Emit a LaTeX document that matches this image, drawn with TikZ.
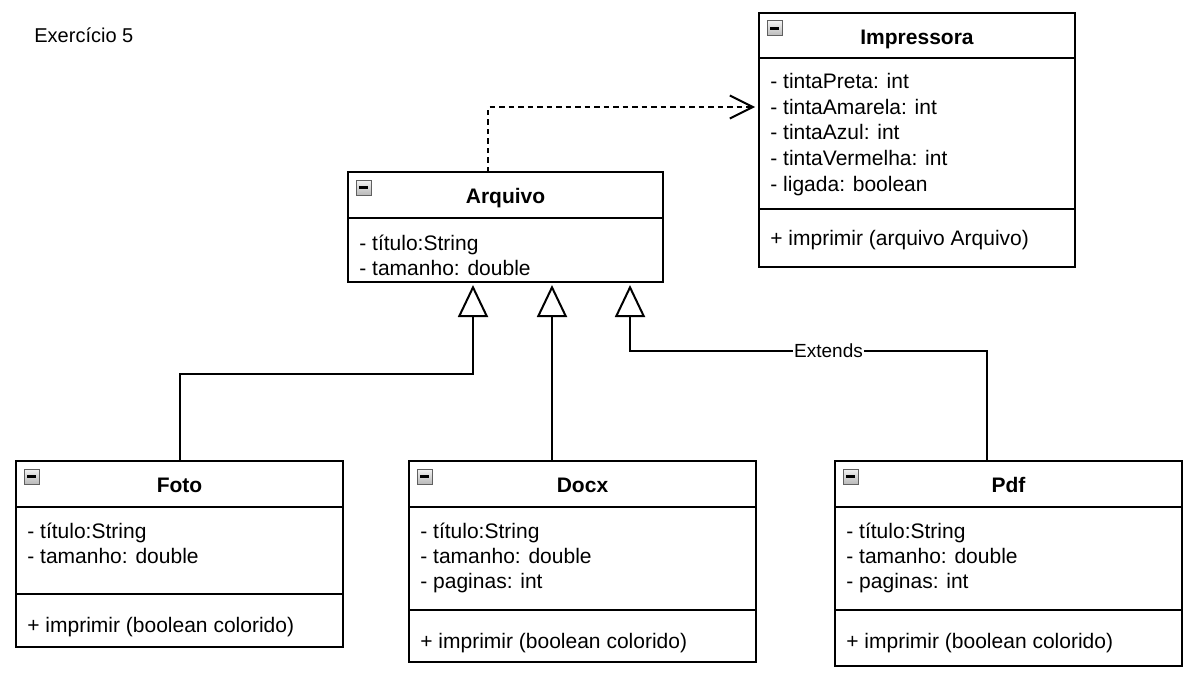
\documentclass[tikz,border=0pt]{standalone}
\usepackage{fontspec}
\setmainfont{Liberation Sans}
\usetikzlibrary{arrows.meta,calc}

\tikzset{
  umlclass/.style={draw, line width=1pt, anchor=north west, inner sep=0pt, outer sep=0pt},
  classname/.style={font=\bfseries\fontsize{10.5}{12.5}\selectfont, anchor=base, inner sep=0pt},
  member/.style={font=\fontsize{10.5}{12.5}\selectfont, anchor=base west, inner sep=0pt},
  divider/.style={line width=1pt},
  inherit/.style={line width=1pt, -{Triangle[length=16pt,width=15pt,fill=white]}, shorten >=1.5pt},
  depend/.style={line width=1pt, dash pattern=on 2.75pt off 2pt, -{Straight Barb[length=11.5pt,width=11.5pt]}},
  extlabel/.style={font=\fontsize{9.5}{11}\selectfont, fill=white, inner sep=0.5pt},
  foldicon/.pic={
    \draw[draw=gray!75!black, top color=gray!10, bottom color=gray!55, line width=0.5pt] (0,0) rectangle (15,15);
    \draw[line width=1.3pt] (3,7.5) -- (12,7.5);
  }
}

\begin{document}
\begin{tikzpicture}[x=0.5pt, y=-0.5pt]
  \useasboundingbox (0,0) rectangle (1197,690);

  \node[member, font=\fontsize{10}{12}\selectfont] (exercicio) at (34,43) {Exercício 5};

  % Impressora
  \node[umlclass, minimum width=158pt, minimum height=127pt] (impressora) at (759,13) {};
  \pic at ($(impressora.north west)+(8,8)$) {foldicon};
  \node[classname] (impressoraname) at ($(impressora.north)+(0,31.5)$) {Impressora};
  \draw[divider] ($(impressora.north west)+(0,45)$) -- ($(impressora.north east)+(0,45)$);
  \draw[divider] ($(impressora.north west)+(0,196)$) -- ($(impressora.north east)+(0,196)$);
  \foreach \txt [count=\i from 0] in {- tintaPreta: int, - tintaAmarela: int, - tintaAzul: int, - tintaVermelha: int, - ligada: boolean}
    \node[member] (impressoraattr\i) at ($(impressora.north west)+(11,76+25.5*\i)$) {\txt};
  \node[member] (impressoraop) at ($(impressora.north west)+(11,232)$) {+ imprimir (arquivo Arquivo)};

  % Arquivo
  \node[umlclass, minimum width=157.5pt, minimum height=55pt] (arquivo) at (348,172) {};
  \pic at ($(arquivo.north west)+(8,8)$) {foldicon};
  \node[classname] (arquivoname) at ($(arquivo.north)+(0,31.5)$) {Arquivo};
  \draw[divider] ($(arquivo.north west)+(0,46)$) -- ($(arquivo.north east)+(0,46)$);
  \foreach \txt [count=\i from 0] in {- título:String, - tamanho: double}
    \node[member] (arquivoattr\i) at ($(arquivo.north west)+(11,78+25*\i)$) {\txt};

  % Foto
  \node[umlclass, minimum width=163.5pt, minimum height=93pt] (foto) at (16,461) {};
  \pic at ($(foto.north west)+(8,8)$) {foldicon};
  \node[classname] (fotoname) at ($(foto.north)+(0,31.5)$) {Foto};
  \draw[divider] ($(foto.north west)+(0,46)$) -- ($(foto.north east)+(0,46)$);
  \draw[divider] ($(foto.north west)+(0,133)$) -- ($(foto.north east)+(0,133)$);
  \foreach \txt [count=\i from 0] in {- título:String, - tamanho: double}
    \node[member] (fotoattr\i) at ($(foto.north west)+(11,77+25*\i)$) {\txt};
  \node[member] (fotoop) at ($(foto.north west)+(11,171)$) {+ imprimir (boolean colorido)};

  % Docx
  \node[umlclass, minimum width=173.5pt, minimum height=100.5pt] (docx) at (409,461) {};
  \pic at ($(docx.north west)+(8,8)$) {foldicon};
  \node[classname] (docxname) at ($(docx.north)+(0,31.5)$) {Docx};
  \draw[divider] ($(docx.north west)+(0,46)$) -- ($(docx.north east)+(0,46)$);
  \draw[divider] ($(docx.north west)+(0,149)$) -- ($(docx.north east)+(0,149)$);
  \foreach \txt [count=\i from 0] in {- título:String, - tamanho: double, - paginas: int}
    \node[member] (docxattr\i) at ($(docx.north west)+(11,77+25*\i)$) {\txt};
  \node[member] (docxop) at ($(docx.north west)+(11,187)$) {+ imprimir (boolean colorido)};

  % Pdf
  \node[umlclass, minimum width=173.5pt, minimum height=102.5pt] (pdf) at (835,461) {};
  \pic at ($(pdf.north west)+(8,8)$) {foldicon};
  \node[classname] (pdfname) at ($(pdf.north)+(0,31.5)$) {Pdf};
  \draw[divider] ($(pdf.north west)+(0,46)$) -- ($(pdf.north east)+(0,46)$);
  \draw[divider] ($(pdf.north west)+(0,149)$) -- ($(pdf.north east)+(0,149)$);
  \foreach \txt [count=\i from 0] in {- título:String, - tamanho: double, - paginas: int}
    \node[member] (pdfattr\i) at ($(pdf.north west)+(11,77+25*\i)$) {\txt};
  \node[member] (pdfop) at ($(pdf.north west)+(11,187)$) {+ imprimir (boolean colorido)};

  % ligacoes
  \coordinate (fotoin) at ($(arquivo.south)+(-32.5,0)$);
  \coordinate (docxin) at ($(arquivo.south)+(46.5,0)$);
  \coordinate (pdfin) at ($(arquivo.south)+(124.5,0)$);
  \coordinate (pdfout) at ($(pdf.north)+(-21.5,0)$);
  \coordinate (depout) at ($(arquivo.north)+(-17.5,0)$);
  \coordinate (depin) at ($(impressora.north west)+(-4,94)$);

  \draw[inherit] (foto.north) -- ++(0,-87) -| (fotoin);
  \draw[inherit] (docxin |- docx.north) -- (docxin);
  \draw[inherit] (pdfout) -- ++(0,-110) -| node[extlabel, pos=0.222] (extends) {Extends} (pdfin);
  \draw[depend] (depout) |- (depin);
\end{tikzpicture}
\end{document}
